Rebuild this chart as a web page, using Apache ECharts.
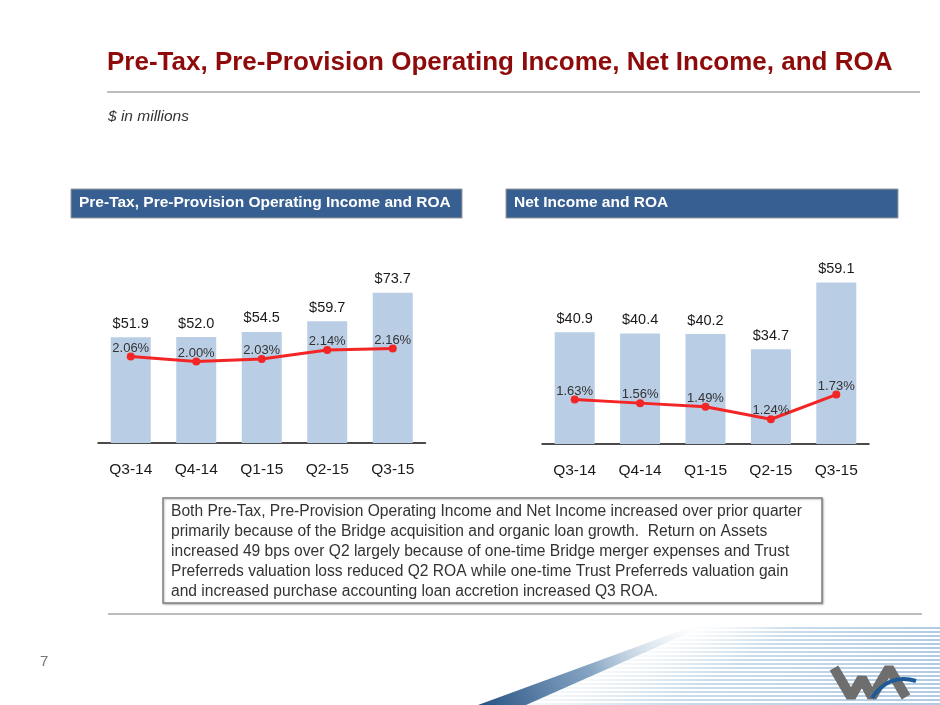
<!DOCTYPE html>
<html>
<head>
<meta charset="utf-8">
<title>Pre-Tax, Pre-Provision Operating Income, Net Income, and ROA</title>
<script src="https://cdn.jsdelivr.net/npm/echarts@6/dist/echarts.min.js"></script>
<style>
  html, body { margin: 0; padding: 0; background: #fff; }
  #chart { width: 940px; height: 705px; }
</style>
</head>
<body>
<div id="chart"></div>
<script>
// quarters shown on both panels
var quarters = ['Q3-14', 'Q4-14', 'Q1-15', 'Q2-15', 'Q3-15'];

// left panel: pre-tax, pre-provision operating income ($M) and ROA (%)
var pppIncome = [51.9, 52.0, 54.5, 59.7, 73.7];
var pppRoa = [2.06, 2.00, 2.03, 2.14, 2.16];

// right panel: net income ($M) and ROA (%)
var netIncome = [40.9, 40.4, 40.2, 34.7, 59.1];
var netRoa = [1.63, 1.56, 1.49, 1.24, 1.73];

var FONT = '"Liberation Sans", Arial, sans-serif';
var BAR_COLOR = '#b9cde5';
var LINE_COLOR = '#f42525';
var HEADER_COLOR = '#375f91';

var noteText = [
    'Both Pre-Tax, Pre-Provision Operating Income and Net Income increased over prior quarter',
    'primarily because of the Bridge acquisition and organic loan growth.  Return on Assets',
    'increased 49 bps over Q2 largely because of one-time Bridge merger expenses and Trust',
    'Preferreds valuation loss reduced Q2 ROA while one-time Trust Preferreds valuation gain',
    'and increased purchase accounting loan accretion increased Q3 ROA.'
].join('\n');

function xAxisFor(gridIndex) {
    return {
        type: 'category',
        gridIndex: gridIndex,
        data: quarters,
        axisLine: { lineStyle: { color: '#111', width: 1.5 } },
        axisTick: { alignWithLabel: true, length: 6, lineStyle: { color: '#111', width: 1 } },
        axisLabel: { color: '#1a1a1a', fontSize: 15.5, fontFamily: FONT, margin: 19 }
    };
}

function hiddenY(gridIndex, min, max) {
    return { type: 'value', gridIndex: gridIndex, min: min, max: max, show: false };
}

function barSeries(xi, yi, values) {
    return {
        type: 'bar',
        xAxisIndex: xi,
        yAxisIndex: yi,
        data: values,
        barWidth: 40,
        itemStyle: { color: BAR_COLOR },
        label: {
            show: true,
            position: 'top',
            distance: 6,
            color: '#1a1a1a',
            fontSize: 14.5,
            fontFamily: FONT,
            formatter: function (p) { return '$' + p.value.toFixed(1); }
        },
        z: 2
    };
}

function roaSeries(xi, yi, values) {
    return {
        type: 'line',
        xAxisIndex: xi,
        yAxisIndex: yi,
        data: values,
        symbol: 'circle',
        symbolSize: 8,
        lineStyle: { color: LINE_COLOR, width: 3 },
        itemStyle: { color: LINE_COLOR },
        label: {
            show: true,
            position: 'top',
            distance: -2,
            color: '#333',
            fontSize: 13,
            fontFamily: FONT,
            formatter: function (p) { return p.value.toFixed(2) + '%'; }
        },
        z: 5
    };
}

// decorative streaks at the bottom right of the slide
var streaks = [];
for (var y = 628; y <= 705; y += 4) {
    var x0 = 700 - (y - 628) * 2.8;
    streaks.push({
        type: 'line',
        silent: true,
        shape: { x1: x0, y1: y, x2: 940, y2: y },
        style: {
            lineWidth: 2,
            stroke: {
                type: 'linear', x: 0, y: 0, x2: 1, y2: 0,
                colorStops: [
                    { offset: 0, color: 'rgba(180,205,225,0)' },
                    { offset: 0.4, color: 'rgba(160,192,218,0.55)' },
                    { offset: 1, color: 'rgba(150,185,215,0.75)' }
                ]
            }
        },
        z: 1
    });
}

var graphics = [
    {
        type: 'text', left: 107, top: 50,
        style: { text: 'Pre-Tax, Pre-Provision Operating Income, Net Income, and ROA',
                 font: 'bold 26px ' + FONT, fill: '#8e0b0b' }
    },
    { type: 'line', shape: { x1: 107, y1: 92, x2: 920, y2: 92 }, style: { stroke: '#bdbdbd', lineWidth: 2 } },
    {
        type: 'text', left: 108, top: 109,
        style: { text: '$ in millions', font: 'italic 15.5px ' + FONT, fill: '#333' }
    },
    // panel headers
    { type: 'rect', shape: { x: 71, y: 189, width: 391, height: 29 },
      style: { fill: HEADER_COLOR, stroke: '#9a9a9a', lineWidth: 1 } },
    { type: 'text', left: 79, top: 195,
      style: { text: 'Pre-Tax, Pre-Provision Operating Income and ROA', font: 'bold 15.5px ' + FONT, fill: '#fff' } },
    { type: 'rect', shape: { x: 506, y: 189, width: 392, height: 29 },
      style: { fill: HEADER_COLOR, stroke: '#9a9a9a', lineWidth: 1 } },
    { type: 'text', left: 514, top: 195,
      style: { text: 'Net Income and ROA', font: 'bold 15.5px ' + FONT, fill: '#fff' } },
    // commentary box
    { type: 'rect', shape: { x: 163, y: 498, width: 659, height: 105 },
      style: { fill: '#fff', stroke: '#808080', lineWidth: 1.5,
               shadowBlur: 2, shadowOffsetX: 1, shadowOffsetY: 1, shadowColor: 'rgba(0,0,0,0.25)' } },
    { type: 'text', left: 171, top: 502,
      style: { text: noteText, font: '15.6px ' + FONT, fill: '#333', lineHeight: 20 } },
    { type: 'line', shape: { x1: 108, y1: 614, x2: 922, y2: 614 }, style: { stroke: '#bdbdbd', lineWidth: 2 } },
    // page number
    { type: 'text', left: 40, top: 654, style: { text: '7', font: '15px ' + FONT, fill: '#777' } },
    // blue swoosh
    { type: 'polygon', silent: true,
      shape: { points: [[478, 705], [526, 705], [700, 628], [688, 628]] },
      style: { fill: {
          type: 'linear', x: 0, y: 1, x2: 1, y2: 0,
          colorStops: [
              { offset: 0, color: 'rgba(25,70,120,0.95)' },
              { offset: 0.5, color: 'rgba(55,105,155,0.6)' },
              { offset: 1, color: 'rgba(200,220,235,0)' }
          ] } },
      z: 2 },
    // logo
    { type: 'polyline', silent: true,
      shape: { points: [[834, 668], [851, 697], [862, 678], [872, 697], [889, 668], [906, 697]] },
      style: { stroke: '#6e6e6e', lineWidth: 10, lineJoin: 'bevel', fill: null }, z: 3 },
    { type: 'bezierCurve', silent: true,
      shape: { x1: 872, y1: 698, cpx1: 884, cpy1: 680, cpx2: 900, cpy2: 676, x2: 916, y2: 681 },
      style: { stroke: '#1d5a98', lineWidth: 4, fill: null }, z: 4 }
].concat(streaks);

var option = {
    backgroundColor: '#fff',
    animation: false,
    textStyle: { fontFamily: FONT },
    grid: [
        { left: 98, width: 327.5, top: 280, height: 163 },
        { left: 542, width: 327, top: 280, height: 164 }
    ],
    xAxis: [xAxisFor(0), xAxisFor(1)],
    yAxis: [
        hiddenY(0, 0, 80),
        hiddenY(0, 1, 3),
        hiddenY(1, 0, 60),
        hiddenY(1, 0.75, 4)
    ],
    series: [
        barSeries(0, 0, pppIncome),
        roaSeries(0, 1, pppRoa),
        barSeries(1, 2, netIncome),
        roaSeries(1, 3, netRoa)
    ],
    graphic: graphics
};

var chart = echarts.init(document.getElementById('chart'));
chart.setOption(option);
</script>
</body>
</html>
